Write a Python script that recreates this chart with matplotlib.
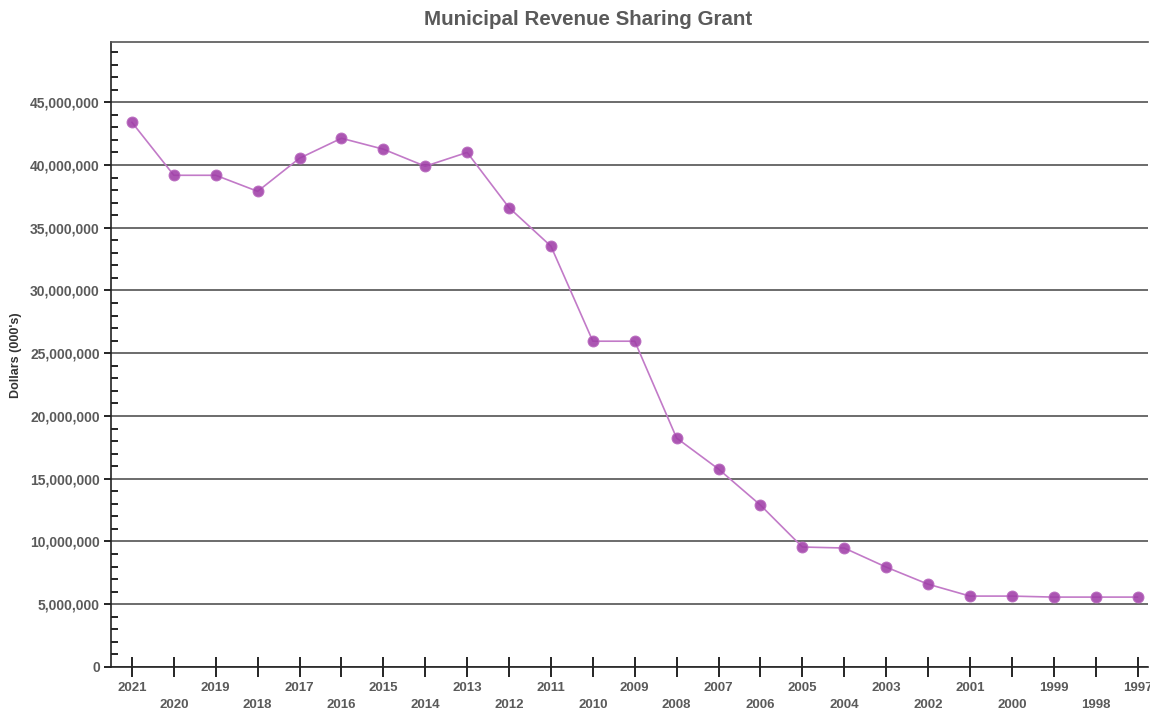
import matplotlib
matplotlib.use("Agg")
import matplotlib.pyplot as plt
from matplotlib.ticker import MultipleLocator, FuncFormatter

years = [2021, 2020, 2019, 2018, 2017, 2016, 2015, 2014, 2013, 2012, 2011, 2010,
         2009, 2008, 2007, 2006, 2005, 2004, 2003, 2002, 2001, 2000, 1999, 1998, 1997]
values = [43400000, 39180000, 39180000, 37900000, 40540000, 42130000, 41260000,
          39900000, 41000000, 36600000, 33530000, 25960000, 25960000, 18240000,
          15770000, 12900000, 9560000, 9480000, 7960000, 6600000, 5650000,
          5650000, 5570000, 5570000, 5570000]

plt.rcParams['font.family'] = ['Liberation Sans', 'DejaVu Sans']
txt = '#5a5a5a'

fig = plt.figure(figsize=(11.5, 7.11), dpi=100)
ax = fig.add_axes([111/1150, 44/711, (1148-111)/1150, (667-42)/711])

x = list(range(len(years)))
ax.plot(x, values, color='#c27ac8', lw=1.2, zorder=3)
ax.plot(x, values, ls='none', marker='o', ms=7.8, mfc='#a03fa8', mec='#b867be',
        mew=0.8, alpha=0.88, zorder=4)

ax.set_xlim(-0.5, len(years) - 0.75)
ax.set_ylim(0, 49800000)

ax.yaxis.set_major_locator(MultipleLocator(5000000))
ax.yaxis.set_minor_locator(MultipleLocator(1000000))
ax.yaxis.set_major_formatter(FuncFormatter(lambda v, p: f"{int(v):,}"))
ax.grid(axis='y', which='major', color='#444444', lw=1.1, zorder=1)
ax.tick_params(axis='y', which='major', direction='out', length=5, width=1.2,
               labelsize=10, labelcolor=txt, pad=3)
ax.tick_params(axis='y', which='minor', direction='in', length=5, width=1.2)
for lab in ax.get_yticklabels():
    lab.set_fontweight('bold')

odd_idx = [i for i in x if i % 2 == 0]
even_idx = [i for i in x if i % 2 == 1]
ax.set_xticks(odd_idx)
ax.set_xticklabels([str(years[i]) for i in odd_idx], fontweight='bold')
ax.set_xticks(even_idx, minor=True)
ax.set_xticklabels([str(years[i]) for i in even_idx], minor=True, fontweight='bold')
ax.tick_params(axis='x', which='major', direction='inout', length=14, width=1.2,
               labelsize=9.5, labelcolor=txt, pad=4)
ax.tick_params(axis='x', which='minor', direction='inout', length=14, width=1.2,
               labelsize=9.5, labelcolor=txt, pad=16)

for s in ['left', 'bottom', 'top']:
    ax.spines[s].set_color('#222222')
    ax.spines[s].set_linewidth(1.2)
ax.spines['top'].set_color('#555555')
ax.spines['right'].set_visible(False)

fig.text(16/1150, 1 - 355/711, "Dollars (000's)", rotation=90, ha='center',
         va='center', fontsize=9, fontweight='bold', color='#333333')
fig.text(588/1150, 1 - 19.5/711, "Municipal Revenue Sharing Grant", ha='center',
         va='center', fontsize=14.75, fontweight='bold', color=txt)

fig.savefig('out.png', dpi=100)
